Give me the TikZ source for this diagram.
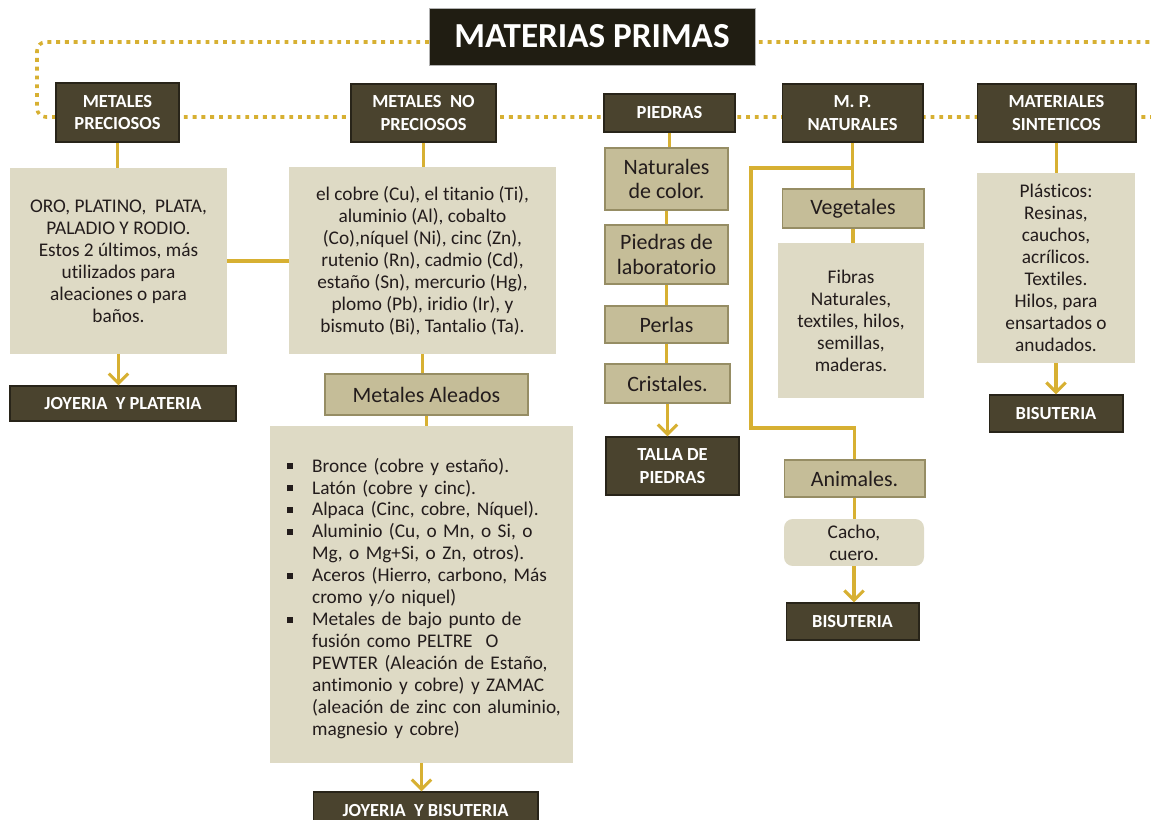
\documentclass[tikz,border=0pt]{standalone}
\usepackage{fontspec}
\setmainfont{Carlito}[Ligatures=NoCommon]
\usetikzlibrary{arrows.meta}
\definecolor{tituloc}{RGB}{32,29,18}
\definecolor{cabeza}{RGB}{74,67,46}
\definecolor{cabezab}{RGB}{40,36,25}
\definecolor{claro}{RGB}{222,218,197}
\definecolor{medio}{RGB}{197,189,152}
\definecolor{mediob}{RGB}{150,141,100}
\definecolor{oro}{RGB}{215,176,50}
\definecolor{letra}{RGB}{35,28,28}
\newcommand{\itm}[1]{\par\leftskip=3.5pt\hangindent=14.2pt\hangafter=1\noindent\makebox[14.2pt][l]{\rule[1.7pt]{3.3pt}{3.3pt}}#1}
\begin{document}
\begin{tikzpicture}[x=0.02cm,y=-0.02cm,
  cabecera/.style={fill=cabeza,draw=cabezab,line width=0.6pt,text=white,font=\fontsize{10.5}{13}\selectfont\bfseries,align=center,inner sep=0pt},
  caja/.style={fill=claro,text=letra,font=\fontsize{11}{12.5}\selectfont,align=center,inner sep=0pt},
  tipo/.style={fill=medio,draw=mediob,line width=0.6pt,text=letra,font=\fontsize{12.5}{13.8}\selectfont,align=center,inner sep=0pt},
  enlace/.style={draw=oro,line width=1.8pt},
  flecha/.style={enlace,-{Straight Barb[length=5.5pt,width=11pt]}},
  puntos/.style={draw=oro,line width=2pt,dash pattern=on 2.2pt off 2.8pt,rounded corners=5pt}]
\useasboundingbox (0,0) rectangle (1151,820);
% marco punteado
\draw[puntos] (429,42) -- (37,42) -- (37,117) -- (1160,117) -- (1160,42) -- (755,42);
% titulo y cabeceras
\node[fill=tituloc,draw=gray!60,line width=0.4pt,text=white,font=\fontsize{20}{24}\selectfont\bfseries,minimum width=6.52cm,minimum height=1.14cm] (titulo) at (592,36.5) {MATERIAS PRIMAS};
\node[cabecera,minimum width=2.46cm,minimum height=1.18cm] (prec) at (117.5,112.5) {METALES\\PRECIOSOS};
\node[cabecera,minimum width=2.9cm,minimum height=1.16cm] (noprec) at (423.5,113) {METALES\ \ NO\\PRECIOSOS};
\node[cabecera,minimum width=2.62cm,minimum height=0.76cm] (piedras) at (669.5,113) {PIEDRAS};
\node[cabecera,minimum width=2.82cm,minimum height=1.16cm] (mpnat) at (852.5,113) {M. P.\\NATURALES};
\node[cabecera,minimum width=3.18cm,minimum height=1.16cm] (sint) at (1056.5,113) {MATERIALES\\SINTETICOS};
% metales preciosos
\node[caja,minimum width=4.34cm,minimum height=3.72cm] (oro) at (118.5,261) {ORO, PLATINO,\ \ PLATA,\\PALADIO Y RODIO.\\Estos 2 últimos, más\\utilizados para\\aleaciones o para\\baños.};
\node[cabecera,minimum width=4.52cm,minimum height=0.7cm] (joyplat) at (123,403.5) {JOYERIA\ \ Y PLATERIA};
% metales no preciosos
\node[caja,minimum width=5.34cm,minimum height=3.74cm] (cobre) at (422.5,260.5) {el cobre (Cu), el titanio (Ti),\\aluminio (Al), cobalto\\(Co),níquel (Ni), cinc (Zn),\\rutenio (Rn), cadmio (Cd),\\estaño (Sn), mercurio (Hg),\\plomo (Pb), iridio (Ir), y\\bismuto (Bi), Tantalio (Ta).};
\node[tipo,minimum width=4.06cm,minimum height=0.82cm] (aleados) at (426.5,394.5) {Metales Aleados};
\node[caja,align=left,text width=5.62cm,minimum width=6.06cm,minimum height=6.74cm] (aleaciones) at (421.5,594.5) {%
\itm{Bronce (cobre y estaño).}
\itm{Latón (cobre y cinc).}
\itm{Alpaca (Cinc, cobre, Níquel).}
\itm{Aluminio (Cu, o Mn, o Si, o\newline Mg, o Mg+Si, o Zn, otros).}
\itm{Aceros (Hierro, carbono, Más\newline cromo y/o niquel)}
\itm{Metales de bajo punto de\newline fusión como PELTRE\ \ O\newline PEWTER (Aleación de Estaño,\newline antimonio y cobre) y ZAMAC\newline (aleación de zinc con aluminio,\newline magnesio y cobre)}\par};
\node[cabecera,minimum width=4.5cm,minimum height=0.76cm] (joybis) at (425.5,811) {JOYERIA\ \ Y BISUTERIA};
% piedras
\node[tipo,minimum width=2.46cm,minimum height=1.24cm] (color) at (666.5,179) {Naturales\\de color.};
\node[tipo,minimum width=2.46cm,minimum height=1.18cm] (lab) at (666.5,254.5) {Piedras de\\laboratorio};
\node[tipo,minimum width=2.46cm,minimum height=0.74cm] (perlas) at (666.5,324.5) {Perlas};
\node[tipo,minimum width=2.5cm,minimum height=0.78cm] (cristales) at (667.5,383.5) {Cristales.};
\node[cabecera,minimum width=2.66cm,minimum height=1.16cm] (talla) at (672.5,466) {TALLA DE\\PIEDRAS};
% naturales
\node[tipo,minimum width=2.84cm,minimum height=0.78cm] (vegetales) at (853,208.5) {Vegetales};
\node[caja,minimum width=2.92cm,minimum height=3.1cm] (fibras) at (851,320.5) {Fibras\\Naturales,\\textiles, hilos,\\semillas,\\maderas.};
\node[tipo,minimum width=2.82cm,minimum height=0.74cm] (animales) at (854.5,478.5) {Animales.};
\node[caja,rounded corners=5pt,minimum width=2.8cm,minimum height=0.94cm] (cuero) at (854,542.5) {Cacho,\\cuero.};
\node[cabecera,minimum width=2.66cm,minimum height=0.74cm] (bisuA) at (852.5,621.5) {BISUTERIA};
% sinteticos
\node[caja,minimum width=3.16cm,minimum height=3.8cm] (plasticos) at (1056,268) {Plásticos:\\Resinas,\\cauchos,\\acrílicos.\\Textiles.\\Hilos, para\\ensartados o\\anudados.};
\node[cabecera,minimum width=2.68cm,minimum height=0.74cm] (bisuB) at (1056,413.5) {BISUTERIA};
% enlaces
\draw[enlace] (prec.south) -- (prec.south |- oro.north);
\draw[enlace] (noprec.south) -- (noprec.south |- cobre.north);
\draw[enlace] (oro.east) -- (oro.east -| cobre.west);
\draw[flecha] (oro.south) -- (oro.south |- joyplat.north);
\draw[enlace] (cobre.south) -- (cobre.south |- aleados.north);
\draw[enlace] (aleados.south) -- (aleados.south |- aleaciones.north);
\draw[flecha] (aleaciones.south) -- (aleaciones.south |- joybis.north);
\draw[enlace] (piedras.south) -- (piedras.south |- color.north);
\draw[enlace] (color.south) -- (color.south |- lab.north);
\draw[enlace] (lab.south) -- (lab.south |- perlas.north);
\draw[enlace] (perlas.south) -- (perlas.south |- cristales.north);
\draw[flecha] (cristales.south) -- (cristales.south |- talla.north);
\coordinate (rama) at (852,168);
\draw[enlace] (mpnat.south) -- (mpnat.south |- vegetales.north);
\draw[enlace] (rama) -| (751,428) -| (animales.north);
\draw[enlace] (vegetales.south) -- (vegetales.south |- fibras.north);
\draw[enlace] (animales.south) -- (animales.south |- cuero.north);
\draw[flecha] (cuero.south) -- (cuero.south |- bisuA.north);
\draw[enlace] (sint.south) -- (sint.south |- plasticos.north);
\draw[flecha] (plasticos.south) -- (plasticos.south |- bisuB.north);
\end{tikzpicture}
\end{document}
